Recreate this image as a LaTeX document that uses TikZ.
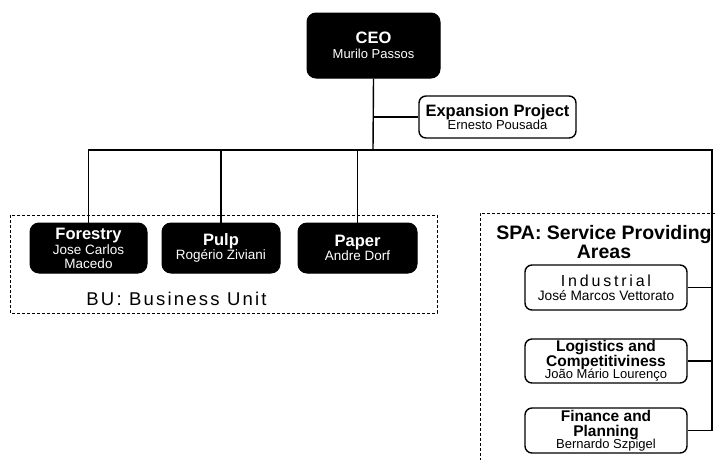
\documentclass[tikz,border=0pt]{standalone}
\usepackage{fontspec}
\setmainfont{Liberation Sans}
\newcommand\tightlines{\lineskiplimit=-30pt\relax\lineskip=0pt\relax}
\newcommand\txt[2]{{\fontsize{#1}{#1}\selectfont #2}}
\newcommand\btxt[2]{{\fontsize{#1}{#1}\selectfont\bfseries #2}}
\newcommand\stxt[3]{{\fontsize{#1}{#1}\selectfont\addfontfeatures{LetterSpace=#2}#3}}
\tikzset{
  lead/.style={font=\tightlines\fontsize{13}{#1}\selectfont},
  darkbox/.style={draw=black, fill=black, text=white, rounded corners=9pt,
    line width=1pt, inner sep=0pt, align=center},
  lightbox/.style={draw=black, fill=white, rounded corners=7pt,
    line width=1.4pt, inner sep=0pt, align=center},
  link/.style={line width=1.4pt},
  groupframe/.style={line width=0.9pt, dash pattern=on 3pt off 2pt},
  caption/.style={inner sep=0pt, align=center}
}
\begin{document}
\begin{tikzpicture}[x=1pt,y=-1pt]
\useasboundingbox (0,0) rectangle (715,459);

% group frames
\draw[groupframe] (10,215) rectangle (437,313);
\draw[groupframe] (715,213) -- (480,213) -- (480,460);

% top of the chart
\node[darkbox, lead=14.5, minimum width=133pt, minimum height=65pt] (ceo) at (373.5,45.5)
  {\btxt{16.5}{CEO}\\\txt{13}{Murilo Passos}};
\node[lightbox, lead=13, minimum width=157pt, minimum height=42pt] (exp) at (497.5,117)
  {\btxt{16.5}{Expansion Project}\\\txt{13}{Ernesto Pousada}};

% business units
\node[darkbox, lead=15, minimum width=117pt, minimum height=50pt] (forestry) at (88.5,248)
  {\btxt{16.5}{Forestry}\\\txt{13.5}{Jose Carlos}\\[-1pt]\txt{13.5}{Macedo}};
\node[darkbox, lead=14, minimum width=118pt, minimum height=50pt] (pulp) at (221,248)
  {\btxt{16.5}{Pulp}\\\txt{13.5}{Rogério Ziviani}};
\node[darkbox, lead=14, minimum width=119pt, minimum height=50pt] (paper) at (357.5,248)
  {\btxt{16.5}{Paper}\\\txt{13.5}{Andre Dorf}};
\node[caption] (bu) at (176.5,298.5) {\stxt{18.5}{12}{BU: Business Unit}};

% service providing areas
\node[caption, lead=18.5] (spa) at (604,242) {\btxt{19.5}{SPA: Service Providing}\\\btxt{19.5}{Areas}};
\node[lightbox, lead=14, minimum width=162pt, minimum height=45pt] (ind) at (606,287.5)
  {\stxt{16}{17.5}{Industrial}\\\txt{13.7}{José Marcos Vettorato}};
\node[lightbox, lead=15, minimum width=162pt, minimum height=44pt] (log) at (606,361)
  {\btxt{15.5}{Logistics and}\\\btxt{15.5}{Competitiviness}\\[-2.5pt]\txt{13}{João Mário Lourenço}};
\node[lightbox, lead=15, minimum width=162pt, minimum height=45pt] (fin) at (606,430.5)
  {\btxt{15.5}{Finance and}\\\btxt{15.5}{Planning}\\[-2.5pt]\txt{13}{Bernardo Szpigel}};

% connectors
\coordinate (bus) at (373,150);
\coordinate (busR) at (712,150);
\draw[link] (ceo.south) -- (bus);
\draw[link] (exp.west) -- (exp.west -| bus);
\draw[link] (forestry.north) |- (busR) |- (fin.east);
\draw[link] (pulp.north) -- (pulp.north |- bus);
\draw[link] (paper.north) -- (paper.north |- bus);
\draw[link] (ind.east) -- (ind.east -| busR);
\draw[link] (log.east) -- (log.east -| busR);
\end{tikzpicture}
\end{document}
